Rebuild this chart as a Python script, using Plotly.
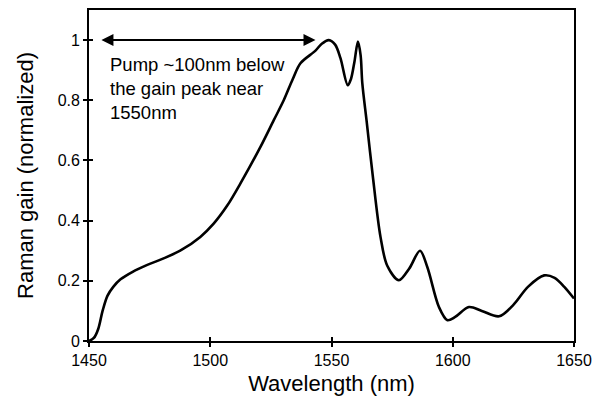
import plotly.graph_objects as go

# Normalized Raman gain spectrum
wavelength_nm = [1450, 1452, 1453.8, 1455.6, 1457.6, 1460, 1463, 1468, 1473.8, 1480, 1487.6,
                 1495.9, 1501.4, 1507, 1512.4, 1520.7, 1526.2, 1530.3, 1534, 1537.2, 1543.4,
                 1546, 1548.9, 1551.5, 1553.7, 1556.7, 1558, 1559.5, 1560.9, 1562, 1562.7,
                 1564.5, 1567, 1570.2, 1573, 1577.8, 1582, 1586.5, 1589.5, 1594.3, 1597.8,
                 1601, 1606.7, 1612, 1619.1, 1625, 1631, 1637.7, 1642, 1646, 1650]
raman_gain = [0.0, 0.01, 0.04, 0.10, 0.15, 0.18, 0.205, 0.23, 0.252, 0.272, 0.30,
              0.346, 0.39, 0.45, 0.523, 0.645, 0.734, 0.80, 0.87, 0.923, 0.965,
              0.988, 1.0, 0.985, 0.94, 0.85, 0.87, 0.93, 0.995, 0.95, 0.857,
              0.73, 0.55, 0.346, 0.25, 0.202, 0.24, 0.30, 0.246, 0.113, 0.069,
              0.08, 0.113, 0.10, 0.082, 0.12, 0.18, 0.218, 0.21, 0.18, 0.141]

x_ticks = [1450, 1500, 1550, 1600, 1650]
y_ticks = [0, 0.2, 0.4, 0.6, 0.8, 1]
y_tick_text = ["0", "0.2", "0.4", "0.6", "0.8", "1"]

# Pump-to-peak offset arrow
arrow_start = 1454.5
arrow_end = 1543.4
arrow_level = 1.0
note = "Pump ~100nm below<br>the gain peak near<br>1550nm"

x_range = [1450, 1650]
y_range = [0, 1.1]

FONT = "Liberation Sans, Arial, sans-serif"

fig = go.Figure()
fig.add_trace(go.Scatter(
    x=wavelength_nm, y=raman_gain, mode="lines",
    line=dict(color="black", width=2.6, shape="spline", smoothing=0.9),
    showlegend=False, hoverinfo="skip",
))
# invisible trace on the overlay axes so the inner tick marks are drawn
fig.add_trace(go.Scatter(x=x_range, y=y_range, xaxis="x2", yaxis="y2",
                         mode="markers", marker=dict(opacity=0),
                         showlegend=False, hoverinfo="skip"))

common = dict(showgrid=False, zeroline=False, linecolor="black", linewidth=1.8,
              tickcolor="black", tickwidth=1.5, ticklen=4, automargin=False)

fig.update_layout(
    width=594, height=407,
    margin=dict(l=89, r=20, t=10, b=66),
    paper_bgcolor="white", plot_bgcolor="white",
    font=dict(family=FONT, color="black"),
    xaxis=dict(range=x_range, tickvals=x_ticks, ticks="outside", mirror=True,
               showline=True,
               tickfont=dict(size=16, family=FONT, color="black"),
               title=dict(text="Wavelength (nm)", font=dict(size=22, family=FONT),
                          standoff=8),
               **common),
    yaxis=dict(range=y_range, tickvals=y_ticks, ticktext=y_tick_text,
               ticks="outside", mirror=True, showline=True,
               tickfont=dict(size=16, family=FONT, color="black"),
               title=dict(text="Raman gain (normalized)", font=dict(size=22, family=FONT),
                          standoff=18),
               **common),
    xaxis2=dict(range=x_range, tickvals=x_ticks, ticks="inside", overlaying="x",
                showticklabels=False, showline=False, showgrid=False, zeroline=False,
                tickcolor="black", tickwidth=1.5, ticklen=4, automargin=False),
    yaxis2=dict(range=y_range, tickvals=y_ticks, ticks="inside", overlaying="y",
                showticklabels=False, showline=False, showgrid=False, zeroline=False,
                tickcolor="black", tickwidth=1.5, ticklen=4, automargin=False),
)

fig.add_annotation(x=arrow_end, y=arrow_level, ax=arrow_start, ay=arrow_level,
                   xref="x", yref="y", axref="x", ayref="y",
                   text="", showarrow=True, arrowside="end+start",
                   arrowhead=2, arrowsize=1.2, arrowwidth=2, arrowcolor="black")
fig.add_annotation(x=1457.7, y=0.84, xref="x", yref="y",
                   text=note, showarrow=False, align="left",
                   xanchor="left", yanchor="middle",
                   font=dict(size=18.5, family=FONT, color="black"))

fig.write_html("out.html")
